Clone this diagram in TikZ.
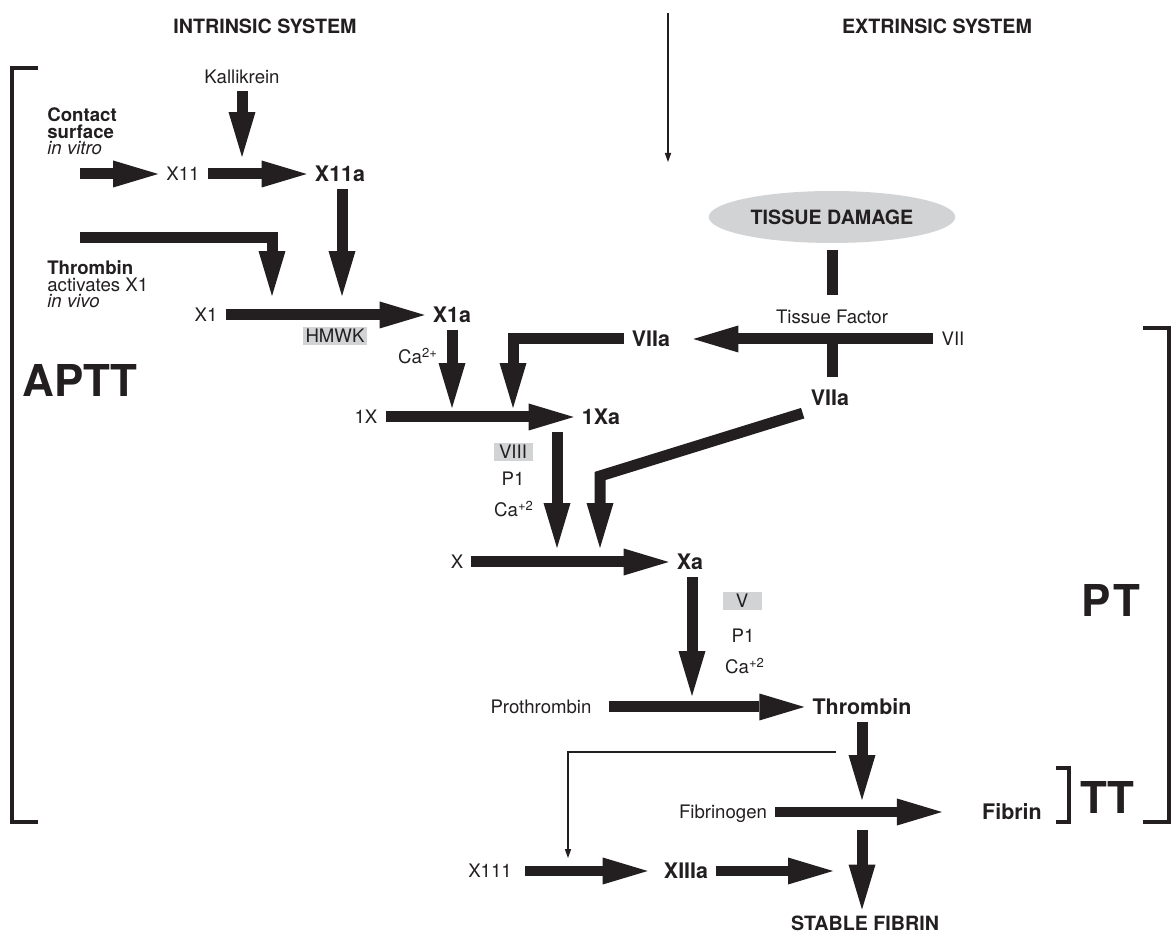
\documentclass[tikz,border=0pt]{standalone}
\usepackage{fontspec}
\setmainfont{TeX Gyre Heros}
\usetikzlibrary{arrows.meta, shapes.geometric, positioning}
\definecolor{myink}{RGB}{35,31,32}
\definecolor{mygray}{RGB}{209,211,212}

\begin{document}
\begin{tikzpicture}[x=0.02cm, y=-0.02cm, myink,
    fat/.style={line width=0.22cm, -{Triangle[length=0.9cm, width=0.54cm, line width=0pt]}},
    bar/.style={line width=0.22cm},
    thin/.style={line width=0.04cm, -{Triangle[length=0.18cm, width=0.13cm, line width=0pt]}},
    bracket/.style={line width=0.08cm},
    lbl/.style={font=\fontsize{10.6}{12}\selectfont, inner xsep=4.5pt, inner ysep=4pt, text depth=0pt},
    prod/.style={font=\bfseries\fontsize{12.2}{14}\selectfont, inner xsep=4.5pt, inner ysep=4pt, text depth=0pt},
    note/.style={font=\fontsize{10.6}{9.6}\selectfont, align=left, inner sep=0pt, anchor=north west},
    tag/.style={fill=mygray, font=\fontsize{10.6}{12}\selectfont, inner sep=1.4pt, text height=7.6pt, text depth=0pt, minimum width=0.78cm},
    head/.style={font=\bfseries\fontsize{11.2}{13}\selectfont, text depth=0pt},
    big/.style={font=\bfseries\fontsize{25}{30}\selectfont, inner sep=0pt}]
                    \useasboundingbox (0,0) rectangle (1174,935);
                    \node[head] (intr) at (265,26) {INTRINSIC SYSTEM};
                    \node[head] (extr) at (937,26) {EXTRINSIC SYSTEM};
                    \coordinate (top0) at (668,13);
                    \coordinate (top1) at (668,162);
                    \draw[thin] (top0) -- (top1);
                    \draw[bracket] (38,68) -- (12,68) -- (12,822) -- (38,822);
                    \node[big, anchor=west] (aptt) at (22,380) {APTT};
                    \draw[bracket] (1143,328) -- (1169,328) -- (1169,822) -- (1143,822);
                    \node[big] (pt) at (1111,600) {P\kern1.5pt T};
                    \draw[bracket] (1056,768) -- (1069,768) -- (1069,822) -- (1056,822);
                    \node[big] (tt) at (1107,797) {TT};
                    \node[lbl] (kal) at (242,77) {Kallikrein};
                    \node[note] (contact) at (47,107) {\textbf{Contact}\\\textbf{surface}\\\textit{in vitro}};
                    \coordinate (cs0) at (80,174);
                    \node[lbl] (x11) at (183,174) {X11};
                    \node[prod] (x11a) at (340,174) {X11a};
                    \coordinate (kalT) at (242,157);
                    \draw[fat] (kal) -- (kalT);
                    \draw[fat] (cs0) -- (cs0 -| x11.west);
                    \draw[fat] (x11.east) -- (x11.east -| x11a.west);
                    \node[note] (thrtxt) at (47,260) {\textbf{Thrombin}\\activates X1\\\textit{in vivo}};
                    \coordinate (thr0) at (80,238);
                    \coordinate (x1T) at (272,296);
                    \draw[fat] (thr0) -| (x1T);
                    \node[lbl] (x1) at (206,315) {X1};
                    \node[prod] (x1a) at (452,315) {X1a};
                    \draw[fat] (x1.east) -- (x1.east -| x1a.west);
                    \coordinate (x11aT) at (342,296);
                    \draw[fat] (x11a.south -| x11aT) -- (x11aT);
                    \node[tag] (hmwk) at (335,336) {HMWK};
                    \node[lbl, anchor=base] (ca1) at (418,364) {Ca\textsuperscript{2+}};
                    \coordinate (x1aT) at (452,408);
                    \draw[fat] (x1a) -- (x1aT);
                    \node[ellipse, fill=mygray, minimum width=4cm, minimum height=1.04cm, head] (td) at (832,217) {TISSUE DAMAGE};
                    \node[lbl] (tf) at (832,317) {Tissue Factor};
                    \draw[bar, shorten <=0.14cm, shorten >=0.16cm] (td) -- (tf);
                    \node[lbl] (vii) at (953,339) {VII};
                    \node[prod] (viia) at (651,339) {VIIa};
                    \draw[fat, shorten >=0.3cm] (vii.west) -- (vii.west -| viia.east);
                    \node[prod] (viib) at (830,398) {VIIa};
                    \draw[bar, shorten >=0.12cm] (tf |- vii) -- (tf |- viib.north);
                    \coordinate (viiaT) at (513,408);
                    \draw[fat] (viia.west) -| (viiaT);
                    \node[lbl] (ix) at (366,417) {1X};
                    \node[prod] (ixa) at (601,417) {1Xa};
                    \draw[fat] (ix.east) -- (ix.east -| ixa.west);
                    \node[tag] (viii) at (513,452) {VIII};
                    \node[lbl, anchor=base] (p1a) at (513,486) {P1};
                    \node[lbl, anchor=base] (ca2) at (514,517) {Ca\textsuperscript{+2}};
                    \coordinate (ixaT) at (557,548);
                    \draw[fat] (ixa.south -| ixaT) -- (ixaT);
                    \coordinate (bend) at (600,476);
                    \coordinate (viibT) at (600,548);
                    \draw[fat] (viib.south west) -- (bend) -- (viibT);
                    \node[lbl] (x) at (457,562) {X};
                    \node[prod] (xa) at (690,562) {Xa};
                    \draw[fat] (x.east) -- (x.east -| xa.west);
                    \node[tag] (v) at (742,601) {V};
                    \node[lbl, anchor=base] (p1b) at (743,643) {P1};
                    \node[lbl, anchor=base] (ca3) at (745,674) {Ca\textsuperscript{+2}};
                    \coordinate (xaT) at (692,696);
                    \draw[fat] (xa.south -| xaT) -- (xaT);
                    \node[lbl] (pro) at (541,707) {Prothrombin};
                    \node[prod] (thr) at (862,707) {Thrombin};
                    \draw[fat, shorten <=0.18cm] (pro.east) -- (pro.east -| thr.west);
                    \coordinate (thrT) at (862,800);
                    \draw[fat] (thr) -- (thrT);
                    \coordinate (fb0) at (836,752);
                    \coordinate (xiiiT) at (568,858);
                    \draw[thin] (fb0) -| (xiiiT);
                    \node[lbl] (fbg) at (723,812) {Fibrinogen};
                    \node[prod] (fib) at (1012,812) {Fibrin};
                    \draw[fat, shorten >=0.64cm] (fbg.east) -- (fbg.east -| fib.west);
                    \node[lbl] (x111) at (490,871) {X111};
                    \node[prod] (xiiia) at (686,871) {XIIIa};
                    \draw[fat, shorten <=0.1cm, shorten >=0.16cm] (x111.east) -- (x111.east -| xiiia.west);
                    \coordinate (xiiiaT) at (833,871);
                    \draw[fat] (xiiia.east) -- (xiiiaT);
                    \node[head] (sf) at (865,923) {STABLE FIBRIN};
                    \coordinate (sf0) at (862,830);
                    \draw[fat] (sf0) -- (sf0 |- sf.north);
                \end{tikzpicture}
\end{document}
